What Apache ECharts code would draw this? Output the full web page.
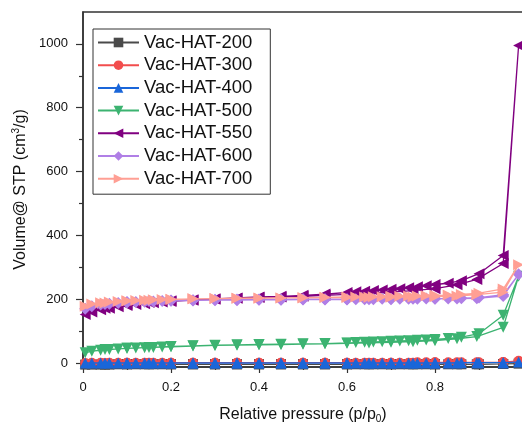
<!DOCTYPE html>
<html>
<head>
<meta charset="utf-8">
<script src="https://cdn.jsdelivr.net/npm/echarts@6/dist/echarts.min.js"></script>
<style>
  html, body { margin: 0; padding: 0; background: #fff; }
  #chart { width: 522px; height: 424px; }
</style>
</head>
<body>
<div id="chart"></div>
<script>
// Relative pressure points: adsorption branch then desorption branch
const adsP = [0.005, 0.02, 0.04, 0.06, 0.08, 0.10, 0.12, 0.14, 0.16, 0.18, 0.20, 0.25, 0.30, 0.35, 0.40, 0.45, 0.50, 0.55, 0.60, 0.65, 0.70, 0.75, 0.80, 0.85, 0.895, 0.955, 0.99];
const desP = [0.955, 0.90, 0.86, 0.83, 0.80, 0.78, 0.76, 0.74, 0.72, 0.70, 0.68, 0.66, 0.64, 0.62, 0.60, 0.55, 0.50, 0.45, 0.40, 0.35, 0.30, 0.25, 0.20, 0.15, 0.10, 0.05];

const seriesNames = ['Vac-HAT-200', 'Vac-HAT-300', 'Vac-HAT-400', 'Vac-HAT-500', 'Vac-HAT-550', 'Vac-HAT-600', 'Vac-HAT-700'];

// Adsorbed volume (cm3/g STP)
const ads200 = [-5, -5, -5, -5, -4, -4, -4, -4, -4, -4, -4, -4, -4, -4, -4, -4, -4, -4, -4, -4, -4, -4, -4, -4, -4, -3, -2];
const des200 = [-3, -4, -4, -4, -4, -4, -4, -4, -4, -4, -4, -4, -4, -4, -4, -4, -4, -4, -4, -4, -4, -4, -4, -4, -4, -5];
const ads300 = [0, 1, 1, 1, 1, 1, 1, 1, 1, 1, 1, 1, 1, 1, 1, 1, 1, 1, 1, 1, 1, 1, 2, 2, 2, 3, 7];
const des300 = [3, 2, 2, 2, 2, 2, 2, 1, 1, 1, 1, 1, 1, 1, 1, 1, 1, 1, 1, 1, 1, 1, 1, 1, 1, 0];
const ads400 = [0, 0, 0, 0, 0, 0, 0, 0, 0, 0, 0, 0, 0, 0, 0, 0, 0, 0, 0, 0, 0, 0, 0, 0, 1, 1, 3];
const des400 = [1, 1, 1, 0, 0, 0, 0, 0, 0, 0, 0, 0, 0, 0, 0, 0, 0, 0, 0, 0, 0, 0, 0, 0, 0, 0];
const ads500 = [32, 37, 40, 42, 44, 46, 47, 48, 49, 50, 51, 53, 55, 56, 57, 58, 59, 60, 62, 63, 65, 67, 70, 76, 83, 112, 272];
const des500 = [150, 92, 81, 77, 74, 72, 71, 70, 69, 68, 67, 66, 65, 64, 63, 61, 60, 59, 58, 57, 56, 54, 52, 49, 46, 42];
const ads550 = [152, 160, 167, 172, 176, 180, 183, 186, 189, 191, 193, 197, 200, 203, 205, 207, 209, 212, 215, 218, 222, 227, 233, 245, 262, 312, 995];
const des550 = [337, 280, 258, 250, 246, 242, 239, 236, 233, 231, 229, 227, 225, 223, 221, 216, 212, 209, 207, 204, 201, 198, 195, 190, 184, 172];
const ads600 = [170, 178, 183, 186, 188, 190, 191, 192, 193, 194, 195, 196, 197, 197, 198, 198, 199, 199, 199, 200, 200, 201, 201, 202, 203, 210, 278];
const des600 = [214, 205, 203, 202, 202, 202, 201, 201, 201, 201, 201, 200, 200, 200, 200, 200, 200, 199, 199, 199, 198, 197, 196, 194, 191, 185];
const ads700 = [178, 185, 189, 191, 193, 195, 196, 197, 198, 199, 200, 201, 202, 203, 203, 204, 204, 205, 205, 206, 206, 207, 208, 210, 214, 222, 308];
const des700 = [232, 219, 215, 213, 212, 211, 210, 210, 209, 209, 208, 208, 207, 207, 207, 206, 205, 204, 204, 203, 202, 201, 199, 197, 194, 188];

const volumes = [
  [ads200, des200], [ads300, des300], [ads400, des400], [ads500, des500],
  [ads550, des550], [ads600, des600], [ads700, des700]
];

const colors = ['#4a4a4a', '#f24d4d', '#1a66d9', '#3cb371', '#800080', '#b07fe6', '#ff9f94'];
const symbols = ['rect', 'circle', 'triangle', 'triangle', 'triangle', 'diamond', 'triangle'];
const rotations = [0, 0, 0, 180, 90, 0, -90];

const yMajor = [0, 200, 400, 600, 800, 1000];
const yMinor = [100, 300, 500, 700, 900];

function isotherm(branches) {
  const pts = [];
  adsP.forEach((p, i) => pts.push([p, branches[0][i]]));
  desP.forEach((p, i) => pts.push([p, branches[1][i]]));
  return pts;
}

const series = seriesNames.map((name, k) => ({
  name: name,
  type: 'line',
  data: isotherm(volumes[k]),
  symbol: symbols[k],
  symbolRotate: rotations[k],
  symbolSize: k === 5 ? 12 : (k === 0 || k === 1 ? 10 : 11),
  showAllSymbol: true,
  color: colors[k],
  lineStyle: { width: 1.3, color: colors[k] },
  itemStyle: { color: colors[k] },
  emphasis: { disabled: true },
  animation: false,
  z: 2 + k
}));

const chart = echarts.init(document.getElementById('chart'), null, { renderer: 'canvas' });
const font = 'Liberation Sans, Arial, sans-serif';

chart.setOption({
  animation: false,
  backgroundColor: '#fff',
  grid: {
    left: 83, top: 12, width: 440, bottom: 57,
    outerBoundsMode: 'none',
    show: true, borderColor: '#333', borderWidth: 1.5, backgroundColor: 'transparent'
  },
  legend: {
    orient: 'vertical',
    left: 93, top: 29,
    padding: [4, 18, 6, 4],
    borderColor: '#333', borderWidth: 1,
    itemWidth: 41, itemHeight: 12, itemGap: 3.7, itemTextGap: 5,
    textStyle: { fontFamily: font, fontSize: 18.5, color: '#111', lineHeight: 18 },
    data: seriesNames
  },
  xAxis: {
    type: 'value', min: 0, max: 1.0, interval: 0.2,
    name: 'Relative pressure (p/p{sub|0})',
    nameLocation: 'middle', nameGap: 39,
    nameTextStyle: {
      fontFamily: font, fontSize: 16, color: '#111',
      rich: { sub: { fontFamily: font, fontSize: 10, verticalAlign: 'bottom', padding: [8, 0, 0, 0] } }
    },
    axisLine: { onZero: false, lineStyle: { color: '#333', width: 1.5 } },
    axisTick: { length: 6, lineStyle: { color: '#333', width: 1.2 } },
    minorTick: { show: true, splitNumber: 2, length: 3, lineStyle: { color: '#333', width: 1.2 } },
    axisLabel: {
      fontFamily: font, fontSize: 13, color: '#111', margin: 14,
      formatter: v => (v === 0 ? '0' : (v === 1 ? '' : v.toFixed(1)))
    },
    splitLine: { show: false }
  },
  yAxis: [{
    type: 'value', min: -12.5, max: 1100,
    name: 'Volume@ STP (cm{sup|3}/g)',
    nameLocation: 'middle', nameGap: 50, nameRotate: 90,
    nameTextStyle: {
      fontFamily: font, fontSize: 16, color: '#111',
      rich: { sup: { fontFamily: font, fontSize: 10, verticalAlign: 'top', padding: [0, 0, 8, 0] } }
    },
    axisLine: { show: true, lineStyle: { color: '#333', width: 1.5 } },
    axisTick: { customValues: yMajor, length: 7, lineStyle: { color: '#333', width: 1.2 } },
    axisLabel: {
      customValues: yMajor, fontFamily: font, fontSize: 13, color: '#111', margin: 15,
      formatter: v => String(v)
    },
    splitLine: { show: false }
  }, {
    type: 'value', min: -12.5, max: 1100, position: 'left',
    axisLine: { show: false },
    axisTick: { show: true, customValues: yMinor, length: 4, lineStyle: { color: '#333', width: 1.2 } },
    axisLabel: { show: false },
    splitLine: { show: false }
  }],
  series: series
});
</script>
</body>
</html>
